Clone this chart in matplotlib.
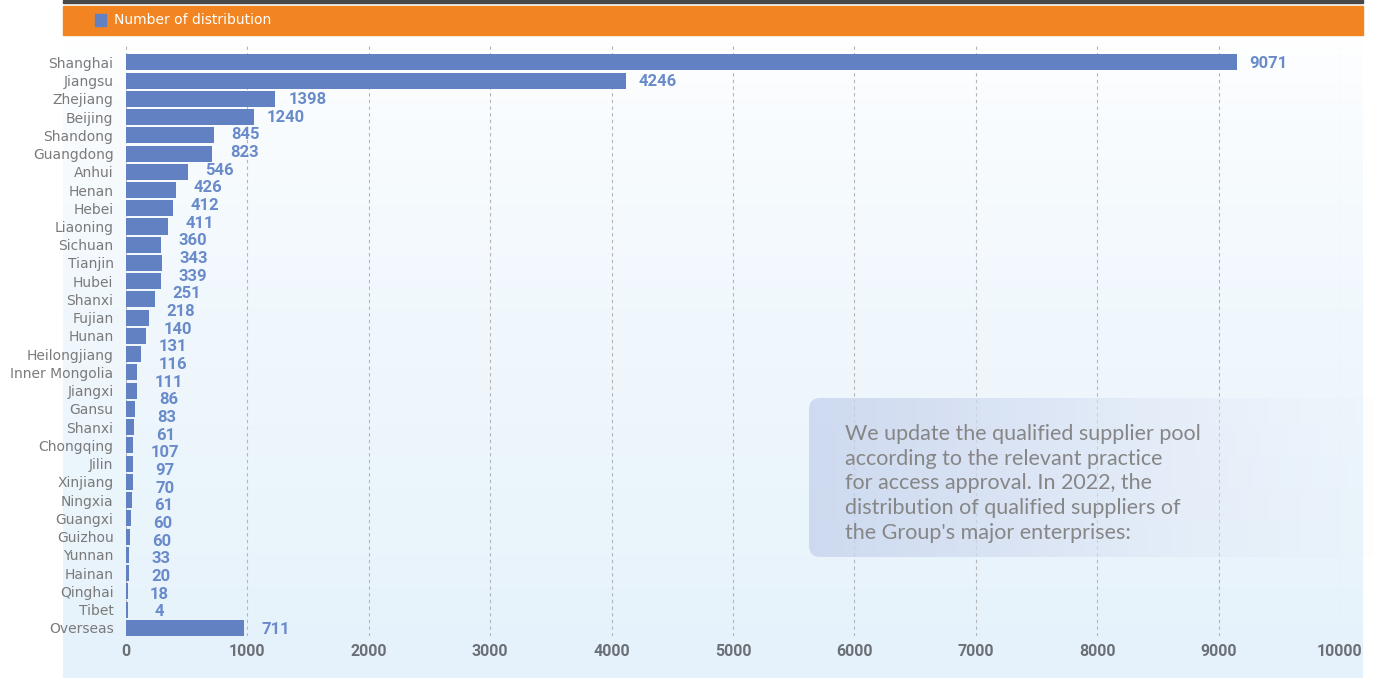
import numpy as np
import matplotlib
matplotlib.use("Agg")
import matplotlib.pyplot as plt
from matplotlib import font_manager as fm
from matplotlib.patches import FancyBboxPatch, Rectangle

# ---------------------------------------------------------------- data ----
regions = ["Shanghai", "Jiangsu", "Zhejiang", "Beijing", "Shandong", "Guangdong",
           "Anhui", "Henan", "Hebei", "Liaoning", "Sichuan", "Tianjin", "Hubei",
           "Shanxi", "Fujian", "Hunan", "Heilongjiang", "Inner Mongolia", "Jiangxi",
           "Gansu", "Shanxi", "Chongqing", "Jilin", "Xinjiang", "Ningxia", "Guangxi",
           "Guizhou", "Yunnan", "Hainan", "Qinghai", "Tibet", "Overseas"]
# bar lengths as drawn in the source
bar_lengths = [9150, 4120, 1230, 1055, 725, 710, 510, 410, 390, 345, 290, 295, 290,
               240, 190, 165, 125, 90, 90, 75, 65, 60, 57, 57, 50, 40, 33, 25, 25,
               14, 14, 970]
# the value labels printed in the source (33 numbers for 32 bars)
value_labels = [9071, 4246, 1398, 1240, 845, 823, 546, 426, 412, 411, 360, 343, 339,
                251, 218, 140, 131, 116, 111, 86, 83, 61, 107, 97, 70, 61, 60, 60,
                33, 20, 18, 4, 711]
x_ticks = [0, 1000, 2000, 3000, 4000, 5000, 6000, 7000, 8000, 9000, 10000]
legend_label = "Number of distribution"
note = ("We update the qualified supplier pool\n"
        "according to the relevant practice\n"
        "for access approval. In 2022, the\n"
        "distribution of qualified suppliers of\n"
        "the Group's major enterprises:")

BAR = "#6181c2"
LABEL = "#6a8bca"
ORANGE = "#f28522"
W, H = 1373, 678

installed = {f.name for f in fm.fontManager.ttflist}

def pick(*names):
    return next((n for n in names if n in installed), "DejaVu Sans")

NARROW = pick("Liberation Sans Narrow", "Roboto", "DejaVu Sans")
LIGHT = pick("Lato", "Roboto", "DejaVu Sans")

def fx(px):
    return px / W

def fy(py):
    return 1 - py / H

fig = plt.figure(figsize=(W / 100, H / 100), dpi=100)
fig.patch.set_facecolor("white")

############################################################ background ####
bg = fig.add_axes([fx(63), 0, fx(1363 - 63), fy(36)], zorder=0)
grad = np.linspace(0, 1, 256).reshape(-1, 1)
top_c = np.array([1.0, 1.0, 1.0])
bot_c = np.array([0.90, 0.95, 0.985])
img = top_c + (bot_c - top_c) * grad[..., None] ** 0.7
bg.imshow(img, aspect="auto", extent=(0, 1, 0, 1), origin="upper")
bg.axis("off")

# header: dark line + orange band + legend
fig.patches.append(Rectangle((fx(63), fy(3)), fx(1300), 3 / H, transform=fig.transFigure,
                             color="#484848", zorder=1))
fig.patches.append(Rectangle((fx(63), fy(35)), fx(1300), 29 / H, transform=fig.transFigure,
                             color=ORANGE, zorder=1))
fig.patches.append(Rectangle((fx(95), fy(26)), fx(11), 12 / H, transform=fig.transFigure,
                             color=BAR, zorder=2))
fig.text(fx(114), fy(20.5), legend_label, color="white", fontsize=10,
         va="center", ha="left", family="DejaVu Sans", zorder=3)

############################################################ main chart ####
ax = fig.add_axes([fx(126), fy(636), fx(1340 - 126), (636 - 45) / H], zorder=2)
ax.patch.set_alpha(0)
y = np.arange(len(regions))
ax.barh(y, bar_lengths, height=0.88, color=BAR, zorder=3)
ax.set_xlim(0, 10000)
ax.set_ylim(31.45, -0.95)
ax.set_xticks(x_ticks)
ax.set_xticklabels([str(t) for t in x_ticks], family=NARROW, stretch="condensed",
                   fontsize=11.5, fontweight="bold", color="#6b6f76")
ax.set_yticks(y)
ax.set_yticklabels(regions, fontsize=10, color="#7a7a7a", family="DejaVu Sans")
ax.tick_params(axis="both", length=0)
ax.tick_params(axis="x", pad=6)
ax.tick_params(axis="y", pad=9)
for s in ax.spines.values():
    s.set_visible(False)
ax.grid(axis="x", color="#b5b5b5", linestyle=(0, (3, 3)), linewidth=0.8, zorder=1)
ax.set_axisbelow(True)

# labels sit on their own evenly spaced slots, next to the nearest bar
n_lab = len(value_labels)
for j, v in enumerate(value_labels):
    yl = j * (len(regions) - 1) / (n_lab - 1)
    row = int(round(yl))
    ax.annotate(str(v), (bar_lengths[row], yl), xytext=(23, -1.2), textcoords="offset points",
                va="center", ha="center", color=LABEL, fontsize=12, fontweight="bold",
                family=NARROW, zorder=4)

############################################################ note box ######
box_ax = fig.add_axes([fx(809), fy(557), fx(W - 809), (557 - 398) / H], zorder=3)
box_ax.axis("off")
gx = np.linspace(0, 1, 256)
rgba = np.zeros((1, 256, 4))
rgba[..., 0] = 0.78 + 0.14 * gx
rgba[..., 1] = 0.83 + 0.11 * gx
rgba[..., 2] = 0.93 + 0.05 * gx
rgba[..., 3] = 0.72 * (1 - gx ** 2) + 0.08
im = box_ax.imshow(rgba, aspect="auto", extent=(0, 1, 0, 1))
clip = FancyBboxPatch((0.0, 0.0), 1.2, 1.0, boxstyle="round,pad=0,rounding_size=0.02",
                      transform=box_ax.transAxes, facecolor="none", edgecolor="none",
                      mutation_aspect=3.5)
box_ax.add_patch(clip)
im.set_clip_path(clip)
box_ax.set_xlim(0, 1)
box_ax.set_ylim(0, 1)
fig.text(fx(845), fy(424), note, color="#868686", fontsize=15.5, va="top", ha="left",
         linespacing=1.29, family=LIGHT, fontweight="normal", zorder=5)

fig.savefig("out.png", dpi=100)
